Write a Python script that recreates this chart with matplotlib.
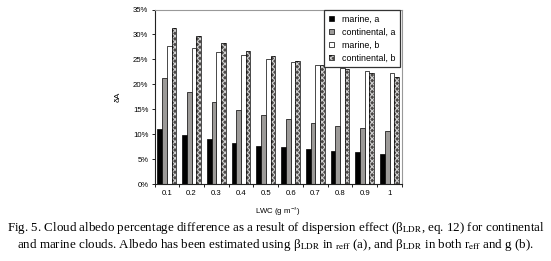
import matplotlib
matplotlib.use("Agg")
import matplotlib.pyplot as plt
import numpy as np
from matplotlib.patches import Patch

categories = ["0.1", "0.2", "0.3", "0.4", "0.5", "0.6", "0.7", "0.8", "0.9", "1"]
marine_a = [11.1, 9.8, 9.0, 8.2, 7.7, 7.4, 7.0, 6.7, 6.4, 6.1]
continental_a = [21.2, 18.4, 16.4, 14.9, 13.8, 13.1, 12.3, 11.7, 11.3, 10.7]
marine_b = [27.6, 27.3, 26.5, 25.8, 25.1, 24.5, 23.8, 23.2, 22.7, 22.2]
continental_b = [31.3, 29.7, 28.2, 26.7, 25.6, 24.6, 23.9, 23.0, 22.3, 21.5]
yticks = [0, 5, 10, 15, 20, 25, 30, 35]

plt.rcParams['hatch.linewidth'] = 0.8
plt.rcParams['font.family'] = ['Liberation Sans', 'DejaVu Sans']
plt.rcParams['mathtext.fontset'] = 'stix'

fig = plt.figure(figsize=(5.51, 2.61), dpi=100)
ax = fig.add_axes([0.2804, 0.295, 0.449, 0.6686])

x = np.arange(len(categories))
w = 0.19
offs = [-1.5 * w, -0.5 * w, 0.5 * w, 1.5 * w]
hatch_face = '#4c4948'
hatch_col = '#cfcfcf'

ax.bar(x + offs[0], marine_a, w, color='black', edgecolor='black', linewidth=0.5, zorder=2)
ax.bar(x + offs[1], continental_a, w, color='#9c9a98', edgecolor='black', linewidth=0.5, zorder=2)
ax.bar(x + offs[2], marine_b, w, color='white', edgecolor='black', linewidth=0.5, zorder=2)
ax.bar(x + offs[3], continental_b, w, color=hatch_face, edgecolor=hatch_col, hatch='xxxxxx', linewidth=0, zorder=2)
ax.bar(x + offs[3], continental_b, w, fill=False, edgecolor='black', linewidth=0.5, zorder=3)

ax.set_xlim(-0.5, len(categories) - 0.5)
ax.set_ylim(0, 35)
ax.set_yticks(yticks)
ax.set_yticklabels([f"{v}%" for v in yticks], fontsize=5.6)
ax.set_xticks(x)
ax.set_xticklabels(categories, fontsize=5.6)
ax.tick_params(axis='x', length=0, pad=4)
ax.set_xticks(np.arange(-0.5, len(categories)), minor=True)
ax.tick_params(axis='x', which='minor', length=2.5, width=0.6, direction='out')
ax.tick_params(axis='y', length=2.5, width=0.6, direction='out', pad=2)

for s in ['left', 'bottom']:
    ax.spines[s].set_color('#222222')
    ax.spines[s].set_linewidth(0.8)
for s in ['top', 'right']:
    ax.spines[s].set_color('#999999')
    ax.spines[s].set_linewidth(0.8)

ax.set_xlabel("LWC (g m$^{-3}$)", fontsize=5.6, labelpad=6)
ax.set_ylabel("δA", fontsize=6, labelpad=8)

handles = [
    Patch(facecolor='black', edgecolor='black', linewidth=0.5),
    Patch(facecolor='#9c9a98', edgecolor='black', linewidth=0.5),
    Patch(facecolor='white', edgecolor='black', linewidth=0.5),
    (Patch(facecolor=hatch_face, edgecolor=hatch_col, hatch='xxxxxx', linewidth=0),
     Patch(fill=False, edgecolor='black', linewidth=0.5)),
]
labels = ["marine, a", "continental, a", "marine, b", "continental, b"]
leg = ax.legend(handles, labels, loc='upper right', bbox_to_anchor=(0.993, 1.0),
                fontsize=6.4, handlelength=0.55, handleheight=0.55, handletextpad=0.9,
                labelspacing=0.45, borderpad=0.55, borderaxespad=0.0,
                fancybox=False, framealpha=1, edgecolor='#333333')
leg.get_frame().set_linewidth(0.9)

cap1 = "Fig. 5. Cloud albedo percentage difference as a result of dispersion effect (β$_{\\rm LDR}$, eq. 12) for continental"
cap2 = "and marine clouds. Albedo has been estimated using β$_{\\rm LDR}$ in $_{\\rm reff}$ (a), and β$_{\\rm LDR}$ in both r$_{\\rm eff}$ and g (b)."
fig.text(0.5, 1 - 228 / 261, cap1, ha='center', va='center', fontsize=9.4, family='Liberation Serif')
fig.text(0.5, 1 - 245 / 261, cap2, ha='center', va='center', fontsize=9.4, family='Liberation Serif')

fig.savefig("out.png", dpi=100)
